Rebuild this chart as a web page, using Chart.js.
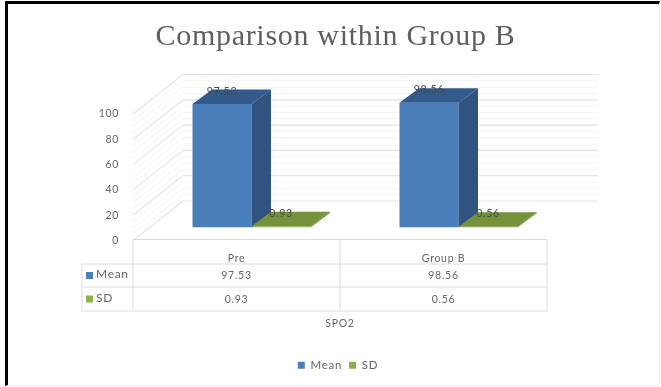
<!DOCTYPE html>
<html>
<head>
<meta charset="utf-8">
<title>Comparison within Group B</title>
<style>
  html, body { margin: 0; padding: 0; background: #fff; }
  #wrap { position: relative; width: 661px; height: 387px; overflow: hidden; }
  #chart { display: block; }
  /* frame around the chart */
  #frame { position: absolute; left: 5px; top: 1px; right: 1px; bottom: 1px;
           border-left: 3px solid #000; border-top: 3px solid #000;
           border-right: 1px solid #f2f2f2; border-bottom: 1px solid #f2f2f2;
           pointer-events: none; }
</style>
<script src="https://cdn.jsdelivr.net/npm/chart.js@4"></script>
</head>
<body>
<div id="wrap">
  <canvas id="chart" width="661" height="387"></canvas>
  <div id="frame"></div>
</div>
<script>
const categories = ['Pre', 'Group B'];
const meanValues = [97.53, 98.56];
const sdValues = [0.93, 0.56];
const axisTitle = 'SPO2';

const FONT = 'Lato, "Open Sans", sans-serif';
const TEXT = '#666666';

// depth of the 3D box, and how far into it the bars stand
const DEPTH = { x: 50, y: -39.5 };
const BAR_SHIFT = { x: 15, y: -13 };
const BAR_DEPTH = { x: 19.5, y: -14.5 };
const WALL_RIGHT = 598;

// shaded faces for each dataset
const faces = [
  { side: '#30537f', top: '#325a8a' },
  { side: '#6a8a36', top: '#76933c' }
];

function segment(ctx, x1, y1, x2, y2) {
  ctx.beginPath();
  ctx.moveTo(x1, y1);
  ctx.lineTo(x2, y2);
  ctx.stroke();
}

function polygon(ctx, pts, color) {
  ctx.fillStyle = color;
  ctx.beginPath();
  pts.forEach((p, i) => (i ? ctx.lineTo(p[0], p[1]) : ctx.moveTo(p[0], p[1])));
  ctx.closePath();
  ctx.fill();
}

// wider text tracking, and nudge the legend a little to the right
const textTweaks = {
  id: 'textTweaks',
  beforeLayout(chart) {
    chart.ctx.letterSpacing = '0.7px';
  },
  afterLayout(chart) {
    chart.legend.left += 5;
  }
};

// side wall and back wall gridlines, then shift the bars into the box
const box3d = {
  id: 'box3d',
  beforeDatasetsDraw(chart) {
    const { ctx, chartArea, scales } = chart;
    const left = chartArea.left;
    ctx.save();
    for (let v = 0; v <= 100; v += 5) {
      const y = scales.y.getPixelForValue(v);
      const major = v % 20 === 0;
      ctx.strokeStyle = major ? '#e4e4e4' : '#f3f3f3';
      ctx.lineWidth = major ? 1.2 : 1;
      segment(ctx, left, y, left + DEPTH.x, y + DEPTH.y);
      segment(ctx, left + DEPTH.x, y + DEPTH.y, WALL_RIGHT, y + DEPTH.y);
    }
    ctx.restore();
    ctx.save();
    ctx.translate(BAR_SHIFT.x, BAR_SHIFT.y);
  },
  afterDatasetsDraw(chart) {
    const { ctx } = chart;
    const dx = BAR_DEPTH.x;
    const dy = BAR_DEPTH.y;
    chart.data.datasets.forEach((ds, i) => {
      chart.getDatasetMeta(i).data.forEach(bar => {
        const l = bar.x - bar.width / 2;
        const r = bar.x + bar.width / 2;
        polygon(ctx, [[r, bar.y], [r + dx, bar.y + dy], [r + dx, bar.base + dy], [r, bar.base]], faces[i].side);
        polygon(ctx, [[l, bar.y], [l + dx, bar.y + dy], [r + dx, bar.y + dy], [r, bar.y]], faces[i].top);
      });
    });
    // value labels
    ctx.fillStyle = '#4a4a4a';
    ctx.font = '10.5px ' + FONT;
    ctx.textAlign = 'center';
    ctx.textBaseline = 'middle';
    chart.data.datasets.forEach((ds, i) => {
      chart.getDatasetMeta(i).data.forEach((bar, j) => {
        ctx.fillText(ds.data[j].toFixed(2), bar.x, bar.y - 13);
      });
    });
    ctx.restore();
  }
};

// data table under the plot, lined up with the category bands
const dataTable = {
  id: 'dataTable',
  afterDraw(chart) {
    const { ctx, chartArea, scales } = chart;
    const { left, right, bottom } = chartArea;
    const headLeft = 82;
    const rows = [bottom + 23.5, bottom + 46.5, bottom + 70.5];
    const mid = (left + right) / 2;

    ctx.save();
    ctx.strokeStyle = '#dcdcdc';
    ctx.lineWidth = 1;
    segment(ctx, left, bottom - 1, right, bottom - 1);
    rows.forEach(y => segment(ctx, headLeft, y, right, y));
    [left, mid, right].forEach(x => segment(ctx, x, bottom - 1, x, rows[2]));
    segment(ctx, headLeft, rows[0], headLeft, rows[2]);

    ctx.textBaseline = 'middle';
    chart.data.datasets.forEach((ds, i) => {
      const cy = (rows[i] + rows[i + 1]) / 2;
      ctx.fillStyle = ds.backgroundColor;
      ctx.fillRect(headLeft + 4, cy - 3.5, 7, 7);
      ctx.fillStyle = TEXT;
      ctx.font = '12px ' + FONT;
      ctx.textAlign = 'left';
      ctx.fillText(ds.label, headLeft + 14, cy - 1);
      ctx.font = '10.5px ' + FONT;
      ctx.textAlign = 'center';
      ds.data.forEach((v, j) => {
        ctx.fillText(v.toFixed(2), scales.x.getPixelForValue(j), cy + 0.5);
      });
    });
    ctx.restore();
  }
};

new Chart(document.getElementById('chart'), {
  type: 'bar',
  data: {
    labels: categories,
    datasets: [
      { label: 'Mean', data: meanValues, backgroundColor: '#4a7ebb', categoryPercentage: 0.57, barPercentage: 1 },
      { label: 'SD', data: sdValues, backgroundColor: '#8cb04a', categoryPercentage: 0.57, barPercentage: 1 }
    ]
  },
  options: {
    responsive: false,
    animation: false,
    layout: { padding: { left: 10, right: 0, top: 0, bottom: 6 } },
    scales: {
      x: {
        grid: { display: false },
        border: { display: false },
        ticks: { color: TEXT, font: { family: FONT, size: 10.5 }, padding: 4, maxRotation: 0 },
        title: { display: true, text: axisTitle, color: TEXT, font: { family: FONT, size: 10.5 }, padding: { top: 0, bottom: 23 } },
        afterFit(scale) { scale.height = 112; }
      },
      y: {
        min: 0,
        max: 100,
        grid: { display: false },
        border: { display: false },
        ticks: { stepSize: 20, color: TEXT, font: { family: FONT, size: 10.5 }, padding: 6 },
        afterFit(scale) { scale.width = 123; }
      },
      // empty axis that keeps the plot clear of the right side
      rightGap: {
        type: 'linear',
        position: 'right',
        grid: { display: false },
        border: { display: false },
        ticks: { display: false },
        afterFit(scale) { scale.width = 114; }
      }
    },
    plugins: {
      title: {
        display: true,
        text: 'Comparison within Group B',
        color: '#5f5f5f',
        font: { family: '"Liberation Serif", serif', size: 30, weight: 'normal' },
        padding: { top: 19, bottom: 59 }
      },
      legend: {
        position: 'bottom',
        labels: { boxWidth: 7, boxHeight: 7, padding: 7, color: TEXT, font: { family: FONT, size: 11.5 } }
      },
      tooltip: { enabled: false }
    }
  },
  plugins: [textTweaks, box3d, dataTable]
});
</script>
</body>
</html>
